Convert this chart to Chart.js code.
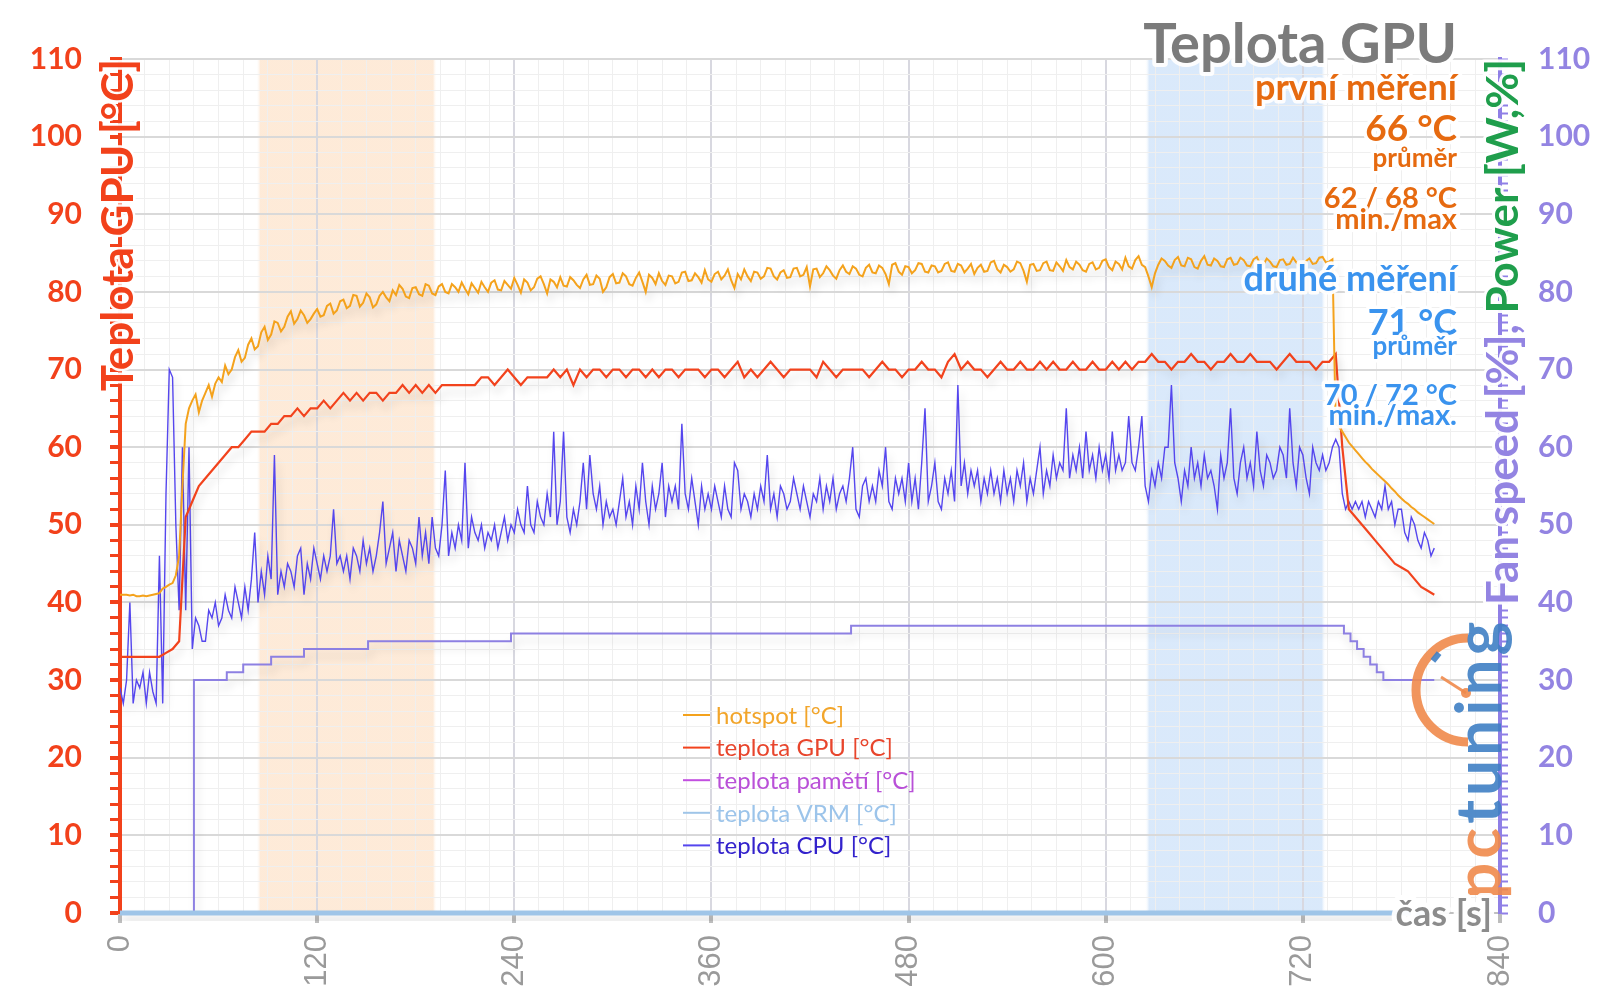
<!DOCTYPE html>
<html lang="cs">
<head>
<meta charset="utf-8">
<title>Teplota GPU</title>
<script src="https://cdn.jsdelivr.net/npm/chart.js@4.4.1/dist/chart.umd.min.js"></script>
<style>
  html, body { margin: 0; padding: 0; background: #fff; }
  #wrap { width: 1600px; height: 1008px; }
</style>
</head>
<body>
<div id="wrap"><canvas id="tempChart" width="1600" height="1008"></canvas></div>
<script>
// logger sample times [s]: hotspot and CPU every 2 s, GPU every 4 s
const times2 = [];
for (let s = 0; s <= 800; s += 2) times2.push(s);
const times4 = [];
for (let s = 0; s <= 800; s += 4) times4.push(s);

// hotspot [°C], every 2 s
const hotspot = [
  41, 41, 41, 40.9, 41, 40.8, 40.8, 40.9, 40.8, 40.9, 41, 41.1, 41.2, 41.8, 42, 42.3, 42.5, 43.5, 46, 55,
  63, 65, 66, 66.8, 64.5, 66, 67, 68, 66.5, 68.2, 69, 68.4, 70.5, 69.4, 70, 71.6, 72.5, 71, 71.5, 73.2,
  74, 72.6, 73, 74.8, 75.5, 73.8, 74.5, 76.2, 76, 74.9, 75.5, 76.8, 77.5, 75.9, 76.5, 77.6, 77, 76, 76.5, 77.2,
  77.8, 76.8, 77, 78.2, 78.5, 77.2, 77.6, 78.8, 79, 77.9, 78.2, 79.6, 79.5, 78.1, 78.6, 79.8, 79.3, 78, 78.4, 79.5,
  80, 79.3, 78.8, 80.2, 79.6, 80.9, 80.4, 79.4, 79.2, 80.5, 80.6, 79.7, 79.5, 81, 80.8, 79.8, 79.6, 80.7, 81, 80,
  79.8, 81, 80.6, 80, 81.2, 80.4, 79.7, 81.1, 80.5, 79.9, 81.3, 80.6, 80, 81.2, 81.5, 80.3, 80.2, 81.4, 80.9, 80.4,
  81.8, 80.9, 79.9, 81.6, 81.2, 80.2, 80.6, 81.7, 82, 81, 79.8, 81.6, 81.3, 80.6, 81.9, 80.8, 80.7, 81.9, 81.5, 80.9,
  80.5, 81.6, 82.2, 80.9, 81, 82.1, 81.7, 80, 80.6, 81.9, 82.3, 81.1, 81.2, 82.4, 82, 81, 80.8, 81.8, 82.5, 81.3,
  80, 82.2, 81.8, 81, 82.4, 81.4, 80.9, 82.1, 82, 81.1, 81.3, 82.5, 82.6, 81.4, 81.5, 82.4, 81.9, 81.2, 82.8, 81.6,
  81.3, 82.3, 82.6, 81.6, 82.1, 82.9, 81.5, 80.5, 82.3, 81.6, 82.9, 82, 81.4, 82.6, 82.5, 81.7, 82, 83.1, 83, 82,
  81.6, 82.5, 82.8, 81.8, 81.9, 83, 83.1, 82, 82.2, 83.2, 80.7, 82.9, 83, 81.9, 82.4, 83.3, 82.8, 82.1, 81.7, 82.8,
  83.4, 82.6, 82.3, 83.3, 83, 82.2, 82, 83.1, 83.5, 82.5, 82.4, 83.4, 83.1, 82.3, 81, 83.5, 83.7, 82.6, 82.2, 83.3,
  83.2, 82.4, 82.8, 83.7, 83.6, 82.6, 82.5, 83.4, 83.3, 82.5, 82.7, 83.6, 83.8, 82.7, 82.6, 83.6, 83.4, 82.5, 83, 83.6,
  82.3, 83.1, 83.5, 82.6, 82.7, 83.8, 84, 82.9, 82.5, 83.5, 83.2, 82.6, 82.9, 83.9, 83.7, 82.7, 81.3, 83.5, 83.6, 82.7,
  82.8, 83.7, 83.9, 82.8, 82.7, 83.8, 83.3, 82.7, 84.1, 83.2, 82.9, 83.9, 83.5, 82.8, 82.6, 83.6, 83.8, 82.9, 83.1, 84,
  84.2, 83.2, 82.8, 83.9, 83.6, 82.9, 84.4, 83.3, 83, 84.1, 84.6, 83.5, 83.2, 82, 80.6, 82.4, 83.5, 84.3, 84, 83.4,
  83.1, 84.1, 84.5, 83.4, 83.3, 84.4, 84.2, 83.2, 83, 84, 84.6, 83.5, 83.4, 84.3, 84, 83.3, 83.2, 84.2, 84.4, 83.5,
  83.6, 84.4, 84.1, 83.4, 83.3, 84.2, 84.5, 83.6, 83.5, 84.3, 83.9, 83.3, 83.2, 84.1, 84.2, 83.5, 83.6, 84.4, 83.8, 83.4,
  83.3, 84, 84.3, 83.6, 83.7, 84.4, 84.5, 83.8, 83.9, 84.2, 63, 62.6, 62, 61.3, 60.6, 60.1, 59.6, 59.1, 58.6, 58.1,
  57.7, 57.2, 56.8, 56.4, 56, 55.6, 55.2, 54.7, 54.3, 53.8, 53.4, 53, 52.7, 52.3, 52, 51.6, 51.3, 51, 50.7, 50.4,
  50.1
];

// teplota CPU [°C], every 2 s
const cpuTemp = [
  29, 27, 30, 40, 27, 30, 29, 31, 27, 31, 28.5, 27, 46, 27, 54, 70, 69, 50, 39, 60,
  39, 60, 34, 38, 37, 35, 35, 39, 38, 40, 37, 38, 41, 39, 38, 42, 40, 38, 42, 39,
  43, 49, 40, 44, 41, 46, 43, 59, 41, 44, 42, 45, 44, 42, 46, 47, 41, 45, 43, 47,
  45, 43, 46, 44, 46, 52, 45, 46, 44, 46, 43, 47, 46, 44, 48, 45, 47, 44, 46, 49,
  53, 45, 47, 49, 44, 48, 46, 44, 48, 47, 45, 51, 46, 49, 45, 51, 47, 46, 50, 57,
  46, 49, 47, 50, 48, 58, 47, 51, 49, 48, 50, 47, 49, 48, 50, 47, 49, 51, 48, 50,
  49, 52, 50, 49, 55, 50, 49, 53, 51, 50, 54, 51, 62, 50, 53, 62, 51, 49, 52, 50,
  53, 58, 52, 59, 54, 52, 55, 50, 53, 51, 52, 50, 53, 56, 51, 53, 50, 55, 52, 58,
  53, 50, 55, 52, 54, 58, 51, 55, 53, 55, 52, 63, 54, 52, 56, 53, 50, 55, 52, 54,
  52, 55, 53, 51, 55, 52, 51, 58, 57, 52, 54, 53, 51, 54, 52, 55, 53, 59, 52, 54,
  51, 55, 54, 52, 53, 56, 54, 52, 55, 53, 51, 54, 53, 56, 52, 55, 53, 56, 52, 54,
  55, 53, 56, 60, 52, 51, 55, 56, 53, 55, 53, 57, 55, 60, 53, 52, 56, 54, 56, 53,
  58, 53, 56, 52, 58, 65, 53, 55, 58, 53, 52, 56, 54, 57, 53, 68, 55, 58, 54, 57,
  55, 57, 53, 56, 54, 57, 54, 56, 53, 57, 54, 56, 53, 57, 55, 58, 53, 56, 54, 57,
  60, 54, 57, 55, 59, 56, 58, 57, 65, 56, 59, 57, 60, 56, 62, 57, 59, 56, 60, 57,
  59, 56, 62, 57, 59, 57, 58, 64, 58, 57, 60, 64, 55, 53, 57, 55, 58, 56, 60, 60,
  68, 58, 56, 53, 57, 55, 60, 56, 58, 55, 59, 56, 57, 55, 52, 59, 56, 58, 65, 56,
  54, 58, 60, 56, 58, 55, 62, 57, 55, 59, 58, 56, 57, 60, 59, 56, 65, 58, 55, 60,
  59, 56, 54, 60, 58, 57, 59, 57, 58, 60, 61, 60, 54, 52, 53, 52, 53, 52, 53, 51,
  53, 52, 51, 53, 52, 55, 52, 53, 50, 52, 52, 49, 48, 51, 50, 48, 47, 49, 48, 46,
  47
];

// teplota GPU [°C], every 4 s
const gpuTemp = [
  33, 33, 33, 33, 33, 33, 33, 33.5, 34, 35,
  51, 53, 55, 56, 57, 58, 59, 60, 60, 61,
  62, 62, 62, 63, 63, 64, 64, 65, 64, 65,
  65, 66, 65, 66, 67, 66, 67, 66, 67, 67,
  66, 67, 67, 68, 67, 68, 67, 68, 67, 68,
  68, 68, 68, 68, 68, 69, 69, 68, 69, 70,
  69, 68, 69, 69, 69, 69, 70, 69, 70, 68,
  70, 69, 70, 70, 69, 70, 70, 69, 70, 70,
  69, 70, 69, 70, 70, 69, 70, 70, 70, 69,
  70, 70, 69, 70, 71, 69, 70, 69, 70, 71,
  70, 69, 70, 70, 70, 70, 69, 71, 70, 69,
  70, 70, 70, 70, 69, 70, 71, 70, 70, 69,
  70, 70, 71, 70, 70, 69, 71, 72, 70, 71,
  70, 70, 69, 70, 71, 70, 70, 71, 70, 70,
  71, 70, 71, 70, 70, 71, 70, 70, 71, 70,
  70, 71, 70, 71, 70, 71, 71, 72, 71, 71,
  70, 71, 71, 72, 71, 71, 70, 71, 71, 72,
  71, 71, 72, 71, 71, 71, 70, 71, 72, 71,
  71, 71, 70, 71, 71, 72, 60, 52, 51, 50,
  49, 48, 47, 46, 45, 44.5, 44, 43, 42, 41.5,
  41
];

// teplota pamětí / VRM [°C] - sensors report 0
const memTimes = [0, 800];
const memTemp = [0, 0];
const vrmTimes = [0, 800];
const vrmTemp = [0, 0];

// fan speed [%] (right axis)
const fanTimes = [0, 45, 65, 75, 92, 112, 151, 238, 445, 745, 749, 753, 757, 761, 765, 769, 800];
const fanSpeed = [0, 30, 31, 32, 33, 34, 35, 36, 37, 36, 35, 34, 33, 32, 31, 30, 30];

const seriesNames = ['hotspot [°C]', 'teplota GPU [°C]', 'teplota pamětí [°C]', 'teplota VRM [°C]', 'teplota CPU [°C]'];

const xTickLabels = [0, 120, 240, 360, 480, 600, 720, 840];
const yTickLabels = [0, 10, 20, 30, 40, 50, 60, 70, 80, 90, 100, 110];

// highlighted measuring windows [s]
const windowStart = [83, 624];
const windowEnd = [193, 734];

const firstRun = ['první měření', '66 °C', 'průměr', '62 / 68 °C', 'min./max'];
const secondRun = ['druhé měření', '71 °C', 'průměr', '70 / 72 °C', 'min./max.'];

// --- styling ---
const RED = '#f2411b';
const PURPLE = '#9384e2';
const GREEN = '#1f9e4c';
const seriesColors = ['#f4a21c', '#f2431d', '#c24fe0', '#9fc5e8', '#5546ee'];
const legendTextColors = ['#f2a52a', '#e8452c', '#b950d8', '#9cc4ea', '#3322cc'];
const windowColors = ['rgba(252, 214, 178, 0.5)', 'rgba(170, 205, 245, 0.44)'];

const toPoints = (xs, ys) => xs.map((x, i) => ({ x: x, y: ys[i] }));

function glowText(ctx, text, x, y, font, color, glow) {
  ctx.font = font;
  ctx.lineJoin = 'round';
  ctx.strokeStyle = 'rgba(255,255,255,0.95)';
  ctx.lineWidth = glow || 7;
  ctx.strokeText(text, x, y);
  ctx.fillStyle = color;
  ctx.fillText(text, x, y);
}

const decor = {
  id: 'decor',
  beforeDraw(chart) {
    const { ctx, chartArea: a, scales } = chart;
    ctx.save();
    windowStart.forEach((s, i) => {
      const x0 = scales.x.getPixelForValue(s);
      const x1 = scales.x.getPixelForValue(windowEnd[i]);
      const g = ctx.createLinearGradient(x0, 0, x1, 0);
      const f = 4 / (x1 - x0);
      g.addColorStop(0, 'rgba(255,255,255,0)');
      g.addColorStop(f, windowColors[i]);
      g.addColorStop(1 - f, windowColors[i]);
      g.addColorStop(1, 'rgba(255,255,255,0)');
      ctx.fillStyle = g;
      ctx.fillRect(x0, a.top, x1 - x0, a.bottom - a.top);
    });
    ctx.restore();
  },
  beforeDatasetDraw(chart) {
    const ctx = chart.ctx;
    ctx.save();
    ctx.shadowColor = 'rgba(0,0,0,0.15)';
    ctx.shadowBlur = 8;
    ctx.shadowOffsetX = 3;
    ctx.shadowOffsetY = 7;
  },
  afterDatasetDraw(chart) {
    chart.ctx.restore();
  },
  afterDraw(chart) {
    const ctx = chart.ctx;
    const a = chart.chartArea;
    ctx.save();
    ctx.textBaseline = 'alphabetic';

    // pctuning logo
    ctx.save();
    ctx.globalAlpha = 0.9;
    ctx.strokeStyle = '#f08a4b';
    ctx.lineWidth = 9;
    ctx.beginPath();
    ctx.arc(1468, 690, 52, Math.PI * 0.5, Math.PI * 1.5);
    ctx.stroke();
    ctx.lineWidth = 3;
    ctx.beginPath();
    ctx.moveTo(1466, 693);
    ctx.lineTo(1441, 677);
    ctx.stroke();
    ctx.fillStyle = '#f08a4b';
    ctx.beginPath();
    ctx.arc(1466, 693, 5, 0, Math.PI * 2);
    ctx.fill();
    ctx.fillStyle = '#3f7fc4';
    ctx.save();
    ctx.translate(1436, 657);
    ctx.rotate(-0.9);
    ctx.fillRect(-5, -3, 10, 6);
    ctx.restore();
    ctx.translate(1501, 899);
    ctx.rotate(-Math.PI / 2);
    ctx.font = 'bold 64px Lato';
    ctx.letterSpacing = '4px';
    ctx.textAlign = 'left';
    ctx.fillStyle = '#f08a4b';
    ctx.fillText('pc', 0, 0);
    const pcw = ctx.measureText('pc').width;
    ctx.fillStyle = '#3f7fc4';
    ctx.fillText('tuning', pcw, 0);
    ctx.restore();

    // left axis title
    ctx.save();
    ctx.translate(133, a.top);
    ctx.rotate(-Math.PI / 2);
    ctx.textAlign = 'right';
    glowText(ctx, 'Teplota GPU [°C]', 0, 0, 'bold 44px Lato', RED, 5);
    ctx.restore();

    // right axis title, two colours
    ctx.save();
    ctx.translate(1518, a.top);
    ctx.rotate(-Math.PI / 2);
    ctx.textAlign = 'right';
    glowText(ctx, 'Power [W,%]', 0, 0, 'bold 44px Lato', GREEN, 6);
    const pw = ctx.measureText('Power [W,%]').width;
    glowText(ctx, 'Fan speed [%], ', -pw, 0, 'bold 44px Lato', PURPLE, 6);
    ctx.restore();

    // x axis title
    ctx.textAlign = 'right';
    glowText(ctx, 'čas [s]', 1492, 926, 'bold 36px Lato', '#8c8c8c', 10);

    // chart title and statistics
    const rx = 1457;
    glowText(ctx, 'Teplota GPU', rx, 63, 'bold 56px Lato', '#7b7b7b', 8);
    const firstStyle = [['bold 36px Lato', 100], ['bold 37px Lato', 141], ['bold 26px Lato', 167], ['bold 29px Lato', 208], ['bold 29px Lato', 229]];
    const secondStyle = [['bold 36px Lato', 291], ['bold 36px Lato', 335], ['bold 26px Lato', 355], ['bold 29px Lato', 405], ['bold 29px Lato', 425]];
    firstRun.forEach((t, i) => glowText(ctx, t, rx, firstStyle[i][1], firstStyle[i][0], '#e66a10', 7));
    secondRun.forEach((t, i) => glowText(ctx, t, rx, secondStyle[i][1], secondStyle[i][0], '#3a93ee', 7));

    // legend inside the plot
    ctx.textAlign = 'left';
    ctx.textBaseline = 'middle';
    seriesNames.forEach((name, i) => {
      const y = 715 + i * 32.6;
      ctx.strokeStyle = seriesColors[i];
      ctx.lineWidth = 2;
      ctx.beginPath();
      ctx.moveTo(683, y);
      ctx.lineTo(710, y);
      ctx.stroke();
      ctx.font = '24px Lato';
      ctx.fillStyle = legendTextColors[i];
      ctx.fillText(name, 716, y + 1);
    });
    ctx.restore();
  }
};

const lineBase = { pointRadius: 0, tension: 0, fill: false };

function draw() {
  Chart.defaults.font.family = 'Lato';
  new Chart(document.getElementById('tempChart'), {
    type: 'line',
    data: {
      datasets: [
        Object.assign({ label: seriesNames[0], order: 0, data: toPoints(times2, hotspot), borderColor: seriesColors[0], borderWidth: 2, yAxisID: 'y' }, lineBase),
        Object.assign({ label: seriesNames[1], order: 1, data: toPoints(times4, gpuTemp), borderColor: seriesColors[1], borderWidth: 2.2, yAxisID: 'y' }, lineBase),
        Object.assign({ label: seriesNames[2], order: 5, data: toPoints(memTimes, memTemp), borderColor: seriesColors[2], borderWidth: 2, yAxisID: 'y' }, lineBase),
        Object.assign({ label: seriesNames[3], order: 2, data: toPoints(vrmTimes, vrmTemp), borderColor: seriesColors[3], borderWidth: 5, clip: 8, yAxisID: 'y' }, lineBase),
        Object.assign({ label: seriesNames[4], order: 3, data: toPoints(times2, cpuTemp), borderColor: seriesColors[4], borderWidth: 1.4, yAxisID: 'y' }, lineBase),
        Object.assign({ label: 'Fan speed [%]', order: 4, data: toPoints(fanTimes, fanSpeed), borderColor: '#8d80e2', borderWidth: 2, stepped: 'before', yAxisID: 'y1' }, lineBase)
      ]
    },
    options: {
      responsive: false,
      animation: false,
      layout: { padding: { top: 59, left: 0, right: 0, bottom: 0 } },
      plugins: { legend: { display: false }, tooltip: { enabled: false } },
      scales: {
        x: {
          type: 'linear',
          min: 0,
          max: 840,
          afterFit: (s) => { s.height = 95; },
          border: { color: '#c0c0c0', width: 2 },
          grid: {
            color: (c) => (c.tick && c.tick.value % 120 === 0 ? '#d8d8e0' : '#efefef'),
            lineWidth: (c) => (c.tick && c.tick.value % 120 === 0 ? 2 : 1),
            tickColor: (c) => (c.tick && c.tick.value % 120 === 0 ? '#bdbdbd' : 'rgba(0,0,0,0)'),
            tickWidth: 4,
            tickLength: 10
          },
          ticks: {
            stepSize: 15,
            autoSkip: false,
            minRotation: 90,
            maxRotation: 90,
            padding: 12,
            color: '#9a9a9a',
            font: { family: 'Liberation Sans', size: 31 },
            callback: (v) => (xTickLabels.includes(v) ? String(v) : '')
          }
        },
        y: {
          position: 'left',
          min: 0,
          max: 110,
          afterFit: (s) => { s.width = 120; },
          border: { color: RED, width: 4 },
          grid: {
            color: (c) => (c.tick && c.tick.value % 10 === 0 ? '#d9d9d9' : '#efefef'),
            lineWidth: (c) => (c.tick && c.tick.value % 10 === 0 ? 2 : 1),
            tickColor: RED,
            tickWidth: (c) => (c.tick && c.tick.value % 10 === 0 ? 4 : 3),
            tickLength: 10
          },
          ticks: {
            stepSize: 2,
            autoSkip: false,
            padding: 28,
            color: RED,
            font: { family: 'Lato', size: 30, weight: 'bold' },
            callback: (v) => (yTickLabels.includes(v) ? String(v) : '')
          }
        },
        y1: {
          position: 'right',
          min: 0,
          max: 110,
          afterFit: (s) => { s.width = 100; },
          border: { color: '#8f7fe6', width: 4 },
          grid: {
            drawOnChartArea: false,
            tickColor: '#8f7fe6',
            tickWidth: 2,
            tickLength: 8
          },
          ticks: {
            stepSize: 1,
            autoSkip: false,
            padding: 30,
            color: PURPLE,
            font: { family: 'Lato', size: 30, weight: 'bold' },
            callback: (v) => (yTickLabels.includes(v) ? String(v) : '')
          }
        }
      }
    },
    plugins: [decor]
  });
}

Promise.all([
  document.fonts.load('bold 30px Lato'),
  document.fonts.load('24px Lato'),
  document.fonts.load('31px "Liberation Sans"')
]).then(draw, draw);
</script>
</body>
</html>
